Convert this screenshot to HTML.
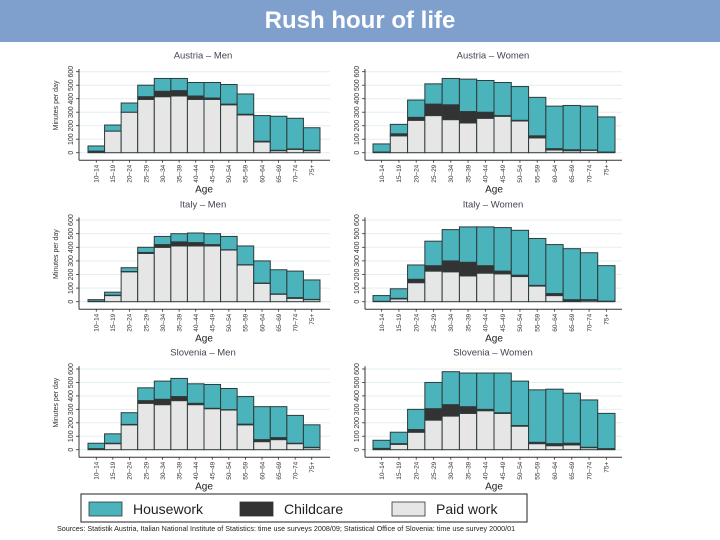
<!DOCTYPE html>
<html><head><meta charset="utf-8"><style>
html,body{margin:0;padding:0;background:#fff;}
body{width:720px;height:540px;overflow:hidden;position:relative;font-family:"Liberation Sans",sans-serif;}
#hdr{position:absolute;left:0;top:0;width:720px;height:42px;background:#7f9fcc;color:#fff;font-weight:bold;font-size:24px;text-align:center;line-height:42px;}
svg{position:absolute;left:0;top:0;}
</style></head><body>
<div id="hdr">Rush hour of life</div>
<svg id="chart" width="720" height="540"></svg>
<script>
const categories=["10–14","15–19","20–24","25–29","30–34","35–39","40–44","45–49","50–54","55–59","60–64","65–69","70–74","75+"];
const panelTitles=["Austria – Men","Austria – Women","Italy – Men","Italy – Women","Slovenia – Men","Slovenia – Women"];
const yTicks=[0,100,200,300,400,500,600];
// paid work, childcare, housework (minutes per day)
const atMenPaid=[3,160,300,395,415,420,395,395,355,280,80,15,25,15];
const atMenChild=[9,0,0,20,40,40,25,10,5,5,5,3,3,3];
const atMenHouse=[38,45,68,85,95,90,100,115,145,150,190,252,227,167];
const atWomenPaid=[0,125,240,275,245,220,255,270,235,110,20,15,18,3];
const atWomenChild=[5,15,22,85,110,85,45,5,5,15,10,7,2,2];
const atWomenHouse=[60,70,128,150,195,240,235,245,250,285,315,328,325,260];
const itMenPaid=[0,45,220,355,400,410,410,410,380,270,135,55,25,15];
const itMenChild=[3,3,2,7,20,30,25,10,2,2,2,2,5,2];
const itMenHouse=[12,22,28,38,60,60,70,80,98,138,163,178,195,143];
const itWomenPaid=[0,20,140,225,220,190,210,205,185,115,45,5,10,2];
const itWomenChild=[3,5,25,40,80,100,55,20,10,5,15,10,5,2];
const itWomenHouse=[42,70,105,180,230,260,285,320,330,345,360,375,345,261];
const siMenPaid=[3,45,185,345,335,365,335,305,295,185,60,75,45,15];
const siMenChild=[5,3,3,20,40,30,10,3,3,5,15,15,3,3];
const siMenHouse=[40,70,87,95,135,135,145,177,157,205,245,230,207,167];
const siWomenPaid=[3,40,130,220,250,270,290,270,175,45,30,35,15,3];
const siWomenChild=[7,5,20,85,85,50,10,5,5,10,15,13,3,5];
const siWomenHouse=[60,85,150,195,245,250,270,295,330,390,405,372,352,262];

const panelData=[[atMenPaid,atMenChild,atMenHouse],[atWomenPaid,atWomenChild,atWomenHouse],
 [itMenPaid,itMenChild,itMenHouse],[itWomenPaid,itWomenChild,itWomenHouse],
 [siMenPaid,siMenChild,siMenHouse],[siWomenPaid,siWomenChild,siWomenHouse]];
const colors={paid:"#e6e6e6",child:"#333333",house:"#4bb3bb"};
const NS="http://www.w3.org/2000/svg";
const svg=document.getElementById('chart');
function mk(tag,attrs,parent){const e=document.createElementNS(NS,tag);for(const k in attrs)e.setAttribute(k,attrs[k]);(parent||svg).appendChild(e);return e;}
const layouts=[
 {ax:79,bl:88,br:320,xe:330,z:152.7,s:13.5,tc:203,yt:true},
 {ax:365,bl:373,br:615,xe:622,z:152.7,s:13.5,tc:493,yt:false},
 {ax:79,bl:88,br:320,xe:330,z:301.7,s:13.6,tc:203,yt:true},
 {ax:365,bl:373,br:615,xe:622,z:301.7,s:13.6,tc:493,yt:false},
 {ax:79,bl:88,br:320,xe:330,z:449.7,s:13.45,tc:203,yt:true},
 {ax:365,bl:373,br:615,xe:622,z:449.7,s:13.45,tc:493,yt:false}];
layouts.forEach((L,pi)=>{
  const g=mk('g',{});
  
  
  const yS=v=>L.z-v*L.s/100;
  const bw=(L.br-L.bl)/categories.length;
  const xS=i=>L.bl+i*bw;
  yTicks.forEach(t=>{
    const gl=mk('line',{x1:L.ax,x2:L.xe,y1:yS(t),y2:yS(t),stroke:"#e3eef2","stroke-width":1},g);
    
    
    mk('line',{x1:L.ax-3,x2:L.ax,y1:yS(t),y2:yS(t),stroke:"#333","stroke-width":0.8},g);
    const tl=mk('text',{x:0,y:0,transform:`translate(${L.ax-6},${yS(t)}) rotate(-90)`,"text-anchor":"middle","font-size":7,fill:"#333"},g);
    tl.textContent=t;
    
    
  });
  const [paid,child,house]=panelData[pi];
  categories.forEach((c,i)=>{
    const segs=[[0,paid[i],colors.paid,'paid'],[paid[i],paid[i]+child[i],colors.child,'childcare'],[paid[i]+child[i],paid[i]+child[i]+house[i],colors.house,'housework']];
    segs.forEach(s=>{
      const r=mk('rect',{x:xS(i),y:yS(s[1]),width:bw,height:Math.max(0,yS(s[0])-yS(s[1])),fill:s[2],stroke:"#2e3b3b","stroke-width":1},g);
      
      
    });
    const xt=mk('text',{x:0,y:0,transform:`translate(${xS(i)+bw/2+2.3},${L.z+12}) rotate(-90)`,"text-anchor":"end","font-size":6.5,fill:"#333"},g);
    xt.textContent=c;
    
    
    mk('line',{x1:xS(i)+bw/2,x2:xS(i)+bw/2,y1:L.z+7.5,y2:L.z+10,stroke:"#333","stroke-width":0.8},g);
  });
  const ya=mk('line',{x1:L.ax,x2:L.ax,y1:yS(620),y2:L.z+7.5,stroke:"#333","stroke-width":1},g);
  
  
  const xa=mk('line',{x1:L.ax,x2:L.xe,y1:L.z+7.5,y2:L.z+7.5,stroke:"#333","stroke-width":1},g);
  
  
  const t=mk('text',{x:L.tc,y:L.z-94,"text-anchor":"middle","font-size":9.5,fill:"#445"},g);
  t.textContent=panelTitles[pi];
  
  
  const at=mk('text',{x:(L.bl+L.br)/2,y:L.z+40,"text-anchor":"middle","font-size":10,fill:"#222"},g);
  at.textContent="Age";
  
  
  if(L.yt){
    const yt=mk('text',{x:0,y:0,transform:`translate(${L.ax-21},${yS(350)}) rotate(-90)`,"text-anchor":"middle","font-size":7,fill:"#333"},g);
    yt.textContent="Minutes per day";
    
    
  }
});
const lg=mk('g',{});


mk('rect',{x:81,y:494,width:446,height:28,fill:"#fff",stroke:"#222","stroke-width":1},lg);
[["Housework",colors.house,89],["Childcare",colors.child,240],["Paid work",colors.paid,392]].forEach(e=>{
  const r=mk('rect',{x:e[2],y:502,width:33,height:14,fill:e[1],stroke:"#333","stroke-width":0.8},lg);
  
  
  const tx=mk('text',{x:e[2]+44,y:514,"font-size":14,fill:"#222"},lg);
  tx.textContent=e[0];
  
  
});
const src=mk('text',{x:57,y:531,"font-size":7.2,fill:"#222"});
src.textContent="Sources: Statistik Austria, Italian National Institute of Statistics: time use surveys 2008/09; Statistical Office of Slovenia: time use survey 2000/01";


</script>
</body></html>
